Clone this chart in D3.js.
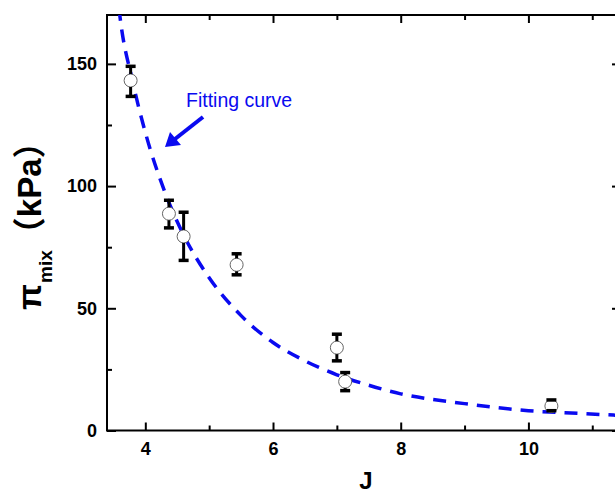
<!DOCTYPE html>
<html>
<head>
<meta charset="utf-8">
<script src="https://cdn.jsdelivr.net/npm/d3@7"></script>
<style>
  body { margin: 0; background: #fff; }
  svg { font-family: "Liberation Sans", Arial, sans-serif; }
</style>
</head>
<body>
<div id="chart"></div>
<script>
// measured points
var pointJ   = [3.77, 4.37, 4.60, 5.43, 7.00, 7.13, 10.36];
var pointPi  = [143.2, 88.7, 79.4, 67.8, 33.9, 20.0, 10.0];
var errLow   = [136.7, 82.9, 69.6, 63.7, 28.5, 16.3, 8.1];
var errHigh  = [149.0, 94.2, 89.3, 72.3, 39.4, 23.7, 12.5];

// fitting curve
var curveJ  = [3.55, 3.6, 3.8, 4.0, 4.3, 4.6, 5.0, 5.5, 6.0, 6.5, 7.0, 7.5, 8.0, 9.0, 10.0, 10.8, 11.5];
var curvePi = [182, 170, 143, 122, 98, 80, 62.5, 47, 36, 28.5, 22.8, 18.5, 15.0, 11.0, 8.1, 7.0, 6.1];

var xMajor = [4, 6, 8, 10];
var xMinor = [5, 7, 9, 11];
var yMajor = [0, 50, 100, 150];
var yMinor = [25, 75, 125];

var width = 615, height = 493;
var m = { left: 107, right: 621, top: 15, bottom: 430.5 };

var svg = d3.select("#chart").append("svg")
    .attr("width", width)
    .attr("height", height);

var x = d3.scaleLinear().domain([3.4, 11.45]).range([m.left, m.right]);
var y = d3.scaleLinear().domain([0, 170]).range([m.bottom, m.top]);

svg.append("defs").append("clipPath").attr("id", "plot")
  .append("rect")
    .attr("x", m.left).attr("y", m.top)
    .attr("width", m.right - m.left).attr("height", m.bottom - m.top);

// frame
svg.append("rect")
    .attr("x", m.left).attr("y", m.top)
    .attr("width", m.right - m.left).attr("height", m.bottom - m.top)
    .attr("fill", "none")
    .attr("stroke", "#000")
    .attr("stroke-width", 2);

function styleAxis(g) {
    g.select(".domain").remove();
    g.selectAll(".tick line").attr("stroke", "#000").attr("stroke-width", 2);
    g.selectAll(".tick text")
        .attr("fill", "#000")
        .style("font-size", "18px")
        .style("font-weight", "bold");
}

// bottom
svg.append("g").attr("transform", "translate(0," + m.bottom + ")")
    .call(d3.axisBottom(x).tickValues(xMajor).tickSize(-8).tickPadding(12).tickFormat(d3.format("d")))
    .call(styleAxis);
svg.append("g").attr("transform", "translate(0," + m.bottom + ")")
    .call(d3.axisBottom(x).tickValues(xMinor).tickSize(-5).tickFormat(""))
    .call(styleAxis);
// top
svg.append("g").attr("transform", "translate(0," + m.top + ")")
    .call(d3.axisTop(x).tickValues(xMajor).tickSize(-8).tickFormat(""))
    .call(styleAxis);
svg.append("g").attr("transform", "translate(0," + m.top + ")")
    .call(d3.axisTop(x).tickValues(xMinor).tickSize(-5).tickFormat(""))
    .call(styleAxis);
// left
svg.append("g").attr("transform", "translate(" + m.left + ",0)")
    .call(d3.axisLeft(y).tickValues(yMajor).tickSize(-9).tickPadding(10).tickFormat(d3.format("d")))
    .call(styleAxis);
svg.append("g").attr("transform", "translate(" + m.left + ",0)")
    .call(d3.axisLeft(y).tickValues(yMinor).tickSize(-5).tickFormat(""))
    .call(styleAxis);
// right
svg.append("g").attr("transform", "translate(" + m.right + ",0)")
    .call(d3.axisRight(y).tickValues(yMajor).tickSize(-9).tickFormat(""))
    .call(styleAxis);
svg.append("g").attr("transform", "translate(" + m.right + ",0)")
    .call(d3.axisRight(y).tickValues(yMinor).tickSize(-5).tickFormat(""))
    .call(styleAxis);

// fitting curve
var curve = d3.range(curveJ.length).map(function (i) { return [curveJ[i], curvePi[i]]; });
svg.append("path")
    .datum(curve)
    .attr("clip-path", "url(#plot)")
    .attr("d", d3.line()
        .x(function (d) { return x(d[0]); })
        .y(function (d) { return y(d[1]); })
        .curve(d3.curveMonotoneX))
    .attr("fill", "none")
    .attr("stroke", "#0a0af0")
    .attr("stroke-width", 3.5)
    .attr("stroke-dasharray", "13,9");

// points with error bars
var pts = d3.range(pointJ.length).map(function (i) {
    return { j: pointJ[i], v: pointPi[i], lo: errLow[i], hi: errHigh[i] };
});

var g = svg.append("g").selectAll("g").data(pts).enter().append("g");

g.append("circle")
    .attr("cx", function (d) { return x(d.j); })
    .attr("cy", function (d) { return y(d.v); })
    .attr("r", 6.5)
    .attr("fill", "#fff")
    .attr("stroke", "#666")
    .attr("stroke-width", 1);

g.append("line")
    .attr("x1", function (d) { return x(d.j); })
    .attr("x2", function (d) { return x(d.j); })
    .attr("y1", function (d) { return y(d.hi); })
    .attr("y2", function (d) { return Math.min(y(d.v) - 6.5, y(d.lo)); })
    .attr("stroke", "#000").attr("stroke-width", 3);
g.append("line")
    .attr("x1", function (d) { return x(d.j); })
    .attr("x2", function (d) { return x(d.j); })
    .attr("y1", function (d) { return y(d.v) + 6.5; })
    .attr("y2", function (d) { return Math.max(y(d.lo), y(d.v) + 6.5); })
    .attr("stroke", "#000").attr("stroke-width", 3);
["hi", "lo"].forEach(function (k) {
    g.append("line")
        .attr("x1", function (d) { return x(d.j) - 5; })
        .attr("x2", function (d) { return x(d.j) + 5; })
        .attr("y1", function (d) { return y(d[k]); })
        .attr("y2", function (d) { return y(d[k]); })
        .attr("stroke", "#000").attr("stroke-width", 3.5);
});

// annotation
svg.append("text")
    .attr("x", 186)
    .attr("y", 107)
    .attr("fill", "#0a0af0")
    .style("font-size", "19.5px")
    .text("Fitting curve");

svg.append("line")
    .attr("x1", 203).attr("y1", 117)
    .attr("x2", 175).attr("y2", 139)
    .attr("stroke", "#0a0af0")
    .attr("stroke-width", 4);
svg.append("path")
    .attr("d", "M165,147 L170,132 L181,145 Z")
    .attr("fill", "#0a0af0");

// axis titles
svg.append("text")
    .attr("x", (m.left + m.right) / 2 + 2)
    .attr("y", 489)
    .attr("text-anchor", "middle")
    .style("font-size", "24px")
    .style("font-weight", "bold")
    .text("J");

var yt = svg.append("text")
    .attr("transform", "translate(41,310) rotate(-90)")
    .attr("text-anchor", "start")
    .style("font-weight", "bold");
yt.append("tspan").style("font-size", "34px").text("π");
yt.append("tspan").style("font-size", "19px").attr("dy", 11).attr("dx", 1).text("mix");
yt.append("tspan").style("font-size", "33px").attr("dy", -11)
    .style("font-family", "'Noto Sans CJK SC', sans-serif").text("（");
yt.append("tspan").style("font-size", "33px").text("kPa");
yt.append("tspan").style("font-size", "33px")
    .style("font-family", "'Noto Sans CJK SC', sans-serif").text("）");
</script>
</body>
</html>
